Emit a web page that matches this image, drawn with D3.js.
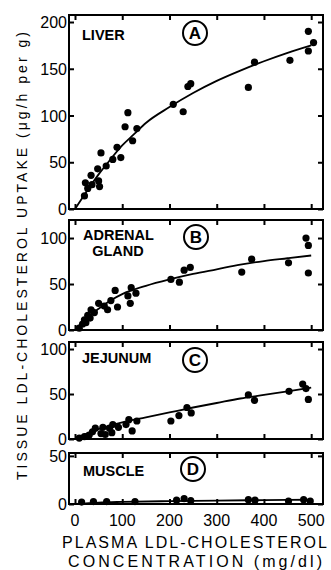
<!DOCTYPE html>
<html><head><meta charset="utf-8">
<script src="https://cdn.jsdelivr.net/npm/d3@7"></script>
<style>
html,body{margin:0;padding:0;background:#fff;}
svg{display:block;}
text{font-family:"Liberation Sans",Arial,Helvetica,sans-serif;fill:#000;}
</style></head>
<body>
<svg id="c" width="331" height="570"></svg>
<script>
// ---- data (plasma LDL-cholesterol mg/dl, tissue uptake µg/h per g) ----
const xTicks = [0, 100, 200, 300, 400, 500];

const liverPts = [[494,190],[505,178],[494,169],[455,159],[380,157],[367,130],[245,134],[239,131],[208,112],[229,104],[112,103],[106,88],[131,86],[122,73],[89,66],[97,55],[80,53],[66,46],[55,60],[48,43],[34,36],[22,28],[50,30],[52,24],[36,26],[27,22],[20,14]];
const liverFit = [[0,0],[25,19],[50,37],[75,53],[100,68],[125,80],[150,92],[200,109],[250,124],[300,137],[350,148],[400,158],[450,167],[500,175]];
const liverTicks = [0, 50, 100, 150, 200];

const adrenalPts = [[489,100],[494,92],[494,62],[452,73],[374,77],[353,63],[244,68],[231,65],[203,55],[221,52],[119,46],[129,40],[112,37],[85,43],[76,32],[117,29],[90,25],[50,29],[62,26],[69,22],[34,22],[41,19],[27,16],[32,13],[20,11],[16,6.5],[23,8],[9,2]];
const adrenalFit = [[0,0],[25,13],[50,23],[75,32],[100,39],[150,48],[200,55],[250,61],[300,66],[350,71],[400,75],[450,78],[500,81]];
const adrenalTicks = [0, 50, 100];

const jejunumPts = [[482,61],[489,56],[494,44],[453,53],[367,49],[380,43],[237,35],[246,29],[220,26],[203,20],[131,20],[114,21.5],[108,16],[121,9],[92,13],[80,16],[73,12],[78,7],[59,13],[55,6],[43,12],[37,8],[30,4.4],[20,2.6],[9,1],[64,5]];
const jejunumFit = [[0,0],[25,6],[50,11],[75,15],[100,18.5],[150,24],[200,29.5],[250,35],[300,40],[350,45],[400,49],[450,53],[500,57]];
const jejunumTicks = [0, 50, 100];

const musclePts = [[14,2],[39,2.5],[67,2.5],[127,2.5],[215,4],[231,5.5],[245,3.5],[367,4.5],[381,4],[452,3],[484,4.5],[498,3]];
const muscleFit = [[0,0],[50,1.5],[100,2.2],[200,3],[300,3.6],[400,4],[500,4.4]];
const muscleTicks = [0, 50];

const panelNames = [["LIVER"], ["ADRENAL", "GLAND"], ["JEJUNUM"], ["MUSCLE"]];
const panelLetters = ["A", "B", "C", "D"];

// ---- layout ----
const svg = d3.select("#c");
const L = 69, R = 323;
const x = d3.scaleLinear().domain([-12.7, 525]).range([L, R]);

const panels = [
  {pts: liverPts, fit: liverFit, ticks: liverTicks, top: 15, bot: 209, ymax: 207.5, nameY: 40, nameX: 82, circ: [195, 33]},
  {pts: adrenalPts, fit: adrenalFit, ticks: adrenalTicks, top: 220, bot: 330, ymax: 119.6, nameY: 240, nameX: 83, circ: [196, 237]},
  {pts: jejunumPts, fit: jejunumFit, ticks: jejunumTicks, top: 342, bot: 439, ymax: 107.8, nameY: 363, nameX: 82, circ: [195, 360]},
  {pts: musclePts, fit: muscleFit, ticks: muscleTicks, top: 453, bot: 504, ymax: 53, nameY: 476, nameX: 83, circ: [193, 469]}
];

panels.forEach((p, i) => {
  const y = d3.scaleLinear().domain([0, p.ymax]).range([p.bot, p.top]);
  const g = svg.append("g");

  // frame
  g.append("rect").attr("x", L).attr("y", p.top).attr("width", R - L).attr("height", p.bot - p.top)
    .attr("fill", "none").attr("stroke", "#000").attr("stroke-width", 2);

  // axes with inward ticks
  const tl = 5;
  g.append("g").attr("transform", `translate(${L},0)`)
    .call(d3.axisRight(y).tickValues(p.ticks).tickSize(tl).tickFormat(""))
    .call(a => a.select(".domain").remove());
  g.append("g").attr("transform", `translate(${R},0)`)
    .call(d3.axisLeft(y).tickValues(p.ticks).tickSize(tl).tickFormat(""))
    .call(a => a.select(".domain").remove());
  g.append("g").attr("transform", `translate(0,${p.top})`)
    .call(d3.axisBottom(x).tickValues(xTicks).tickSize(tl).tickFormat(""))
    .call(a => a.select(".domain").remove());
  g.append("g").attr("transform", `translate(0,${p.bot})`)
    .call(d3.axisTop(x).tickValues(xTicks).tickSize(tl).tickFormat(""))
    .call(a => a.select(".domain").remove());
  g.selectAll(".tick line").attr("stroke", "#000").attr("stroke-width", 2);

  // y tick labels
  g.selectAll("text.yl").data(p.ticks).enter().append("text")
    .attr("class", "yl")
    .attr("x", L - 2).attr("y", d => y(d) + 6)
    .attr("text-anchor", "end").attr("font-size", 16)
    .text(d => d);

  // fitted curve
  const line = d3.line().x(d => x(d[0])).y(d => y(d[1])).curve(d3.curveMonotoneX);
  g.append("path").datum(p.fit).attr("d", line)
    .attr("fill", "none").attr("stroke", "#000").attr("stroke-width", 1.8);

  // points
  g.selectAll("circle.pt").data(p.pts).enter().append("circle")
    .attr("class", "pt")
    .attr("cx", d => x(d[0])).attr("cy", d => y(d[1])).attr("r", 3.6).attr("fill", "#000");

  // name
  panelNames[i].forEach((t, k) => {
    g.append("text")
      .attr("x", k === 0 ? p.nameX : p.nameX + 35)
      .attr("y", p.nameY + k * 16)
      .attr("text-anchor", k === 0 ? "start" : "middle")
      .attr("font-size", 14.5).attr("font-weight", "bold")
      .text(t);
  });

  // circled letter
  g.append("circle").attr("cx", p.circ[0]).attr("cy", p.circ[1]).attr("r", 12)
    .attr("fill", "none").attr("stroke", "#000").attr("stroke-width", 2);
  g.append("text").attr("x", p.circ[0]).attr("y", p.circ[1] + 6)
    .attr("text-anchor", "middle").attr("font-size", 17).attr("font-weight", "bold")
    .text(panelLetters[i]);
});

// x tick labels (bottom)
svg.selectAll("text.xl").data(xTicks).enter().append("text")
  .attr("class", "xl")
  .attr("x", d => x(d)).attr("y", 526)
  .attr("text-anchor", "middle").attr("font-size", 16)
  .text(d => d);

// x title
svg.append("text").attr("x", 62).attr("y", 548).attr("font-size", 16)
  .attr("textLength", 265).attr("lengthAdjust", "spacing")
  .text("PLASMA LDL-CHOLESTEROL");
svg.append("text").attr("x", 68).attr("y", 567).attr("font-size", 16)
  .attr("textLength", 254).attr("lengthAdjust", "spacing")
  .text("CONCENTRATION (mg/dl)");

// y title
svg.append("text")
  .attr("transform", "translate(27,480) rotate(-90)")
  .attr("x", 0).attr("y", 0).attr("font-size", 14)
  .attr("textLength", 448).attr("lengthAdjust", "spacing")
  .text("TISSUE LDL-CHOLESTEROL UPTAKE (\u03BCg/h per g)");
</script>
</body></html>
